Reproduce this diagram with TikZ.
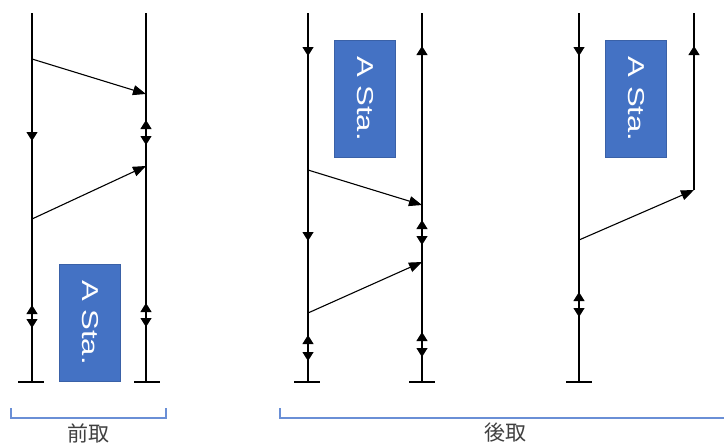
\documentclass[tikz,border=0pt]{standalone}
\usepackage{fontspec}
\setmainfont{Liberation Sans}
\newfontfamily\jpfont{Noto Sans CJK JP}
\usetikzlibrary{arrows.meta}
\definecolor{boxblue}{HTML}{4472C4}
\definecolor{brk}{HTML}{6A8FD6}
\definecolor{lbl}{HTML}{404040}
\tikzset{
  life/.style={line width=1.2pt},
  msg/.style={line width=1.1pt,-{Triangle[length=13pt,width=10pt]}},
  mk/.style={line width=1.2pt,-{Triangle[length=9pt,width=11pt]}},
  sta/.style={fill=boxblue,draw=boxblue!85!black,line width=0.4pt,rotate=-90,
    minimum width=117pt,minimum height=61pt,inner sep=0pt,text=white,
    font=\fontsize{23}{23}\selectfont},
  brace/.style={draw=brk,line width=1.3pt},
  grp/.style={text=lbl,inner sep=0pt,font=\jpfont\fontsize{21}{21}\selectfont}
}
\newcommand{\statext}{\scalebox{1.35}[1]{A Sta.}}
\begin{document}
\begin{tikzpicture}[x=1pt,y=-1pt]
\useasboundingbox (0,0) rectangle (724,445);
% lifelines
\coordinate (a1) at (32,13);  \coordinate (a2) at (32,382);
\coordinate (b1) at (146,13); \coordinate (b2) at (146,382);
\coordinate (c1) at (308,13); \coordinate (c2) at (308,382);
\coordinate (d1) at (422,13); \coordinate (d2) at (422,382);
\coordinate (e1) at (579,13); \coordinate (e2) at (579,382);
\coordinate (f1) at (694,13); \coordinate (f2) at (694,190);
\draw[life] (a1)--(a2) (b1)--(b2) (c1)--(c2) (d1)--(d2) (e1)--(e2) (f1)--(f2);
\draw[life] (18,382)--(44,382) (134,382)--(160,382)
  (294,382)--(320,382) (409,382)--(435,382) (566,382)--(592,382);
% messages
\coordinate (m1) at (32,59);   \coordinate (n1) at (146,94);
\coordinate (m2) at (32,219);  \coordinate (n2) at (146,166);
\coordinate (m3) at (308,170); \coordinate (n3) at (422,205);
\coordinate (m4) at (308,313); \coordinate (n4) at (422,262);
\coordinate (m5) at (579,240);
\draw[msg] (m1)--(n1);
\draw[msg] (m2)--(n2);
\draw[msg] (m3)--(n3);
\draw[msg] (m4)--(n4);
\draw[msg] (m5)--(f2);
% direction marks
\draw[mk] (32,129)--(32,141);
\draw[mk] (146,131)--(146,120); \draw[mk] (146,134)--(146,145);
\draw[mk] (32,316)--(32,305);   \draw[mk] (32,317)--(32,328);
\draw[mk] (146,314)--(146,303); \draw[mk] (146,316)--(146,327);
\draw[mk] (308,44)--(308,56);   \draw[mk] (422,58)--(422,46);
\draw[mk] (308,229)--(308,241);
\draw[mk] (422,231)--(422,220); \draw[mk] (422,234)--(422,245);
\draw[mk] (308,346)--(308,335); \draw[mk] (308,350)--(308,361);
\draw[mk] (422,343)--(422,332); \draw[mk] (422,346)--(422,357);
\draw[mk] (579,44)--(579,56);   \draw[mk] (694,58)--(694,46);
\draw[mk] (579,303)--(579,292); \draw[mk] (579,306)--(579,317);
% stations
\node[sta] (s1) at (90,322.5) {\statext};
\node[sta] (s2) at (365,98.5) {\statext};
\node[sta] (s3) at (636,99) {\statext};
% groups
\draw[brace] (11,408)--(11,418)--(166,418)--(166,408);
\draw[brace] (280,408)--(280,418)--(724,418);
\node[grp] (pre) at (88,433) {前取};
\node[grp] (post) at (505,433) {後取};
\end{tikzpicture}
\end{document}
